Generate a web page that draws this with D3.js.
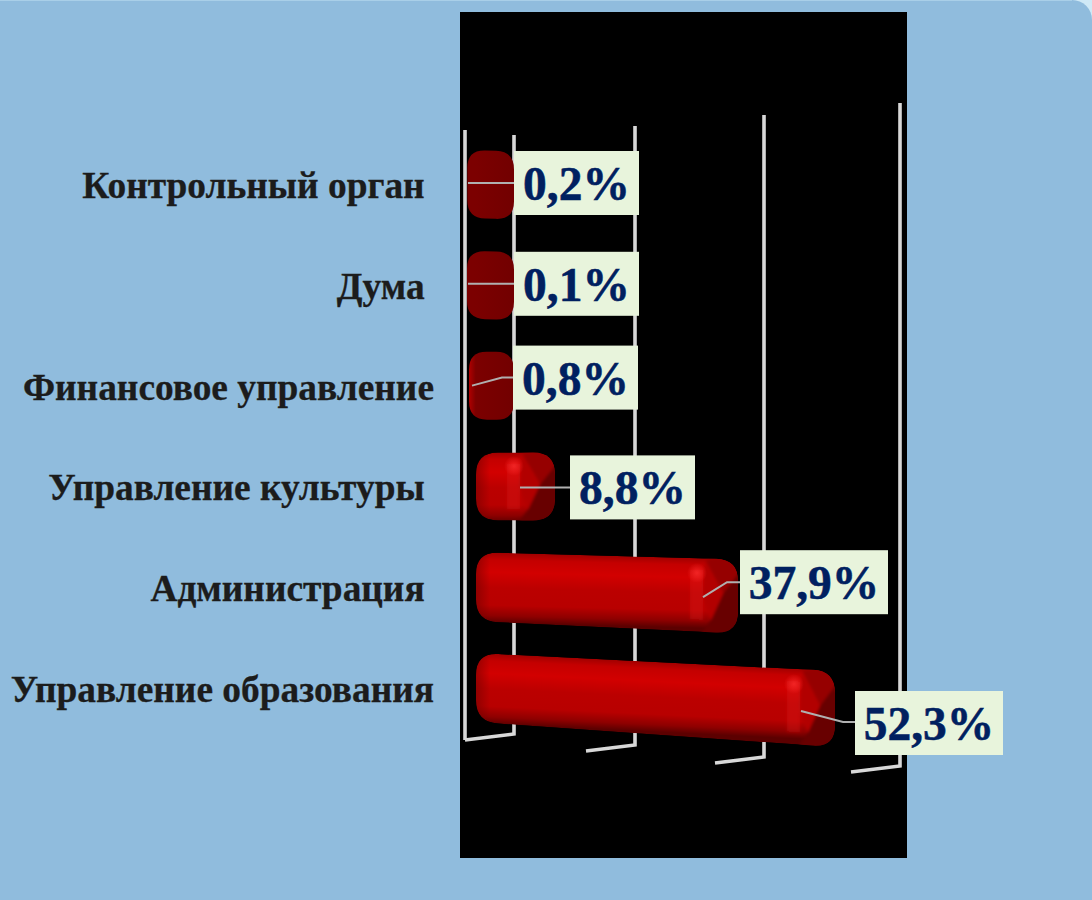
<!DOCTYPE html>
<html>
<head>
<meta charset="utf-8">
<script src="https://cdn.jsdelivr.net/npm/d3@7"></script>
<style>
  html, body { margin: 0; padding: 0; background: #cfe9f6; overflow: hidden; }
  svg { display: block; }
  text { font-family: "Liberation Serif", serif; font-weight: bold; white-space: pre; }
</style>
</head>
<body>
<svg id="chart"></svg>
<script>
// Data
const categories = ["Контрольный орган ", "Дума ", "Финансовое управление", "Управление культуры ", "Администрация ", "Управление образования"];
const values = [0.2, 0.1, 0.8, 8.8, 37.9, 52.3];
const valueLabels = ["0,2%", "0,1%", "0,8%", "8,8%", "37,9%", "52,3%"];
const axisTicks = [0, 20, 40, 60];

const width = 1092;
const height = 900;

const svg = d3.select("#chart").attr("width", width).attr("height", height);
const defs = svg.append("defs");

// soft edge for the end cap shading
defs.append("filter").attr("id", "soft").attr("x", "-20%").attr("y", "-20%").attr("width", "140%").attr("height", "140%")
  .append("feGaussianBlur").attr("stdDeviation", 1.6);

// Background and black plot panel
svg.append("rect").attr("x", -40).attr("y", 0).attr("width", width + 40).attr("height", height + 40)
  .attr("rx", 20).attr("fill", "#90bcdd");
svg.append("line").attr("x1", 0).attr("x2", 1072).attr("y1", 0.5).attr("y2", 0.5).attr("stroke", "#a9cfe8");
svg.append("rect").attr("x", 460).attr("y", 12).attr("width", 447).attr("height", 846).attr("fill", "#000");

// Scales: the 3D perspective makes them piecewise
const x = d3.scaleLinear().domain(axisTicks).range([514, 635, 764, 900]);
const gridTop = d3.scaleLinear().domain(axisTicks).range([135, 126, 115, 103]);
const gridBottom = d3.scaleLinear().domain(axisTicks).range([734, 745, 757, 766]);
const barEnd = d3.scaleLinear().domain([0, 0.8, 8.8, 37.9, 52.3]).range([514, 514, 555, 738, 835]);
const barStart = d3.scaleLinear().domain([0.1, 0.8, 8.8, 52.3]).range([467, 469, 476, 476]);
const rowY = d3.scalePoint().domain(categories).range([184, 688]);
const barHeight = 68;
// how much each row tilts downwards to the right
const rowTilt = d3.scaleLinear().domain([0, 2, 3, 4, 5]).range([0.03, 0.01, 0, 0.027, 0.05]);

// Grid
const grid = svg.append("g").attr("stroke", "#d8d8d8").attr("stroke-width", 3.6).attr("fill", "none");
grid.selectAll("path.tick").data(axisTicks).join("path")
  .attr("class", "tick")
  .attr("d", d => `M${x(d)},${gridTop(d)}V${gridBottom(d)}L${x(d) - 49},${gridBottom(d) + 6}`);
grid.append("path")
  .attr("d", `M465,130V740`);

// Rounded four-sided outline
function outline(x0, x1, t0, t1, b0, b1, r) {
  const s = (t1 - t0) / (x1 - x0), q = (b1 - b0) / (x1 - x0);
  return `M${x0},${t0 + r}Q${x0},${t0} ${x0 + r},${t0 + s * r}` +
    `L${x1 - r},${t1 - s * r}Q${x1},${t1} ${x1},${t1 + r}` +
    `L${x1},${b1 - r}Q${x1},${b1} ${x1 - r},${b1 - q * r}` +
    `L${x0 + r},${b0 + q * r}Q${x0},${b0} ${x0},${b0 - r}Z`;
}

// Bars
const bars = svg.append("g").selectAll("g").data(values).join("g");
bars.each(function (v, i) {
  const g = d3.select(this);
  const x0 = barStart(v), x1 = barEnd(v);
  const s = rowTilt(i);
  const mid = rowY(categories[i]);
  const t0 = mid - barHeight / 2 - (i > 3 ? 1 : 0), b0 = mid + barHeight / 2;
  const len = x1 - x0;
  const t1 = t0 + s * len, b1 = b0 + (s + (i > 3 ? 0.02 : 0)) * len;
  const at = (xx, f) => {
    const u = (xx - x0) / len;
    return (t0 + (t1 - t0) * u) * (1 - f) + (b0 + (b1 - b0) * u) * f;
  };
  const d = outline(x0, x1, t0, t1, b0, b1, i > 2 ? 22 : 18);

  if (v < 1) {
    const id = "small" + i;
    const grad = defs.append("linearGradient").attr("id", id).attr("x1", 0).attr("x2", 1).attr("y1", 0).attr("y2", 0);
    grad.append("stop").attr("offset", 0).attr("stop-color", i === 2 ? "#b00000" : "#7c0000");
    grad.append("stop").attr("offset", 0.15).attr("stop-color", "#7c0000");
    grad.append("stop").attr("offset", 1).attr("stop-color", "#720000");
    g.append("path").attr("d", d).attr("fill", `url(#${id})`);
    return;
  }

  // body shading runs across the tilted bar
  const id = "body" + i;
  const grad = defs.append("linearGradient").attr("id", id).attr("gradientUnits", "userSpaceOnUse")
    .attr("x1", x0).attr("y1", t0).attr("x2", x0 - s * barHeight).attr("y2", t0 + barHeight + 2);
  [[0, "#a00000"], [0.1, "#c40000"], [0.28, "#d20000"], [0.5, "#bb0000"], [0.75, "#b80000"], [0.9, "#8e0000"], [1, "#5c0000"]]
    .forEach(p => grad.append("stop").attr("offset", p[0]).attr("stop-color", p[1]));

  const clip = "clip" + i;
  defs.append("clipPath").attr("id", clip).append("path").attr("d", d);
  const inner = g.append("g").attr("clip-path", `url(#${clip})`);
  inner.append("path").attr("d", d).attr("fill", `url(#${id})`);

  // left rim
  const rimId = "rim" + i;
  const rim = defs.append("linearGradient").attr("id", rimId);
  rim.append("stop").attr("offset", 0).attr("stop-color", "#700000").attr("stop-opacity", 0.55);
  rim.append("stop").attr("offset", 1).attr("stop-color", "#700000").attr("stop-opacity", 0);
  inner.append("rect").attr("x", x0).attr("y", t0).attr("width", 14).attr("height", barHeight + 4).attr("fill", `url(#${rimId})`);

  // end cap: light ring, then faceted tip
  const ring = x1 - 48, capX = x1 - 35;
  const poly = pts => pts.map(p => p.join(",")).join(" ");
  const soft = inner.append("g").attr("filter", "url(#soft)");

  const tip = [x1 - 15, at(x1 - 15, 0.47)];
  const capTop = [capX + 2, at(capX, 0.02)];
  const capBottom = [capX + 8, at(capX, 0.84)];
  soft.append("polygon")
    .attr("points", poly([capTop, [x1 + 4, at(x1, -0.1)], [x1 + 4, at(x1, 0.12)], tip]))
    .attr("fill", "#960000");
  soft.append("polygon")
    .attr("points", poly([tip, [x1 + 4, at(x1, 0.12)], [x1 + 4, at(x1, 1.1)], [capX - 6, at(capX, 1.1)], capBottom]))
    .attr("fill", "#680000");
  soft.append("polygon")
    .attr("points", poly([capTop, tip, capBottom, [capX - 1, at(capX, 0.5)]]))
    .attr("fill", "#b20000");
  soft.append("polygon")
    .attr("points", poly([[ring, at(ring, 0.16)], [capX, at(capX, 0.16)], [capX, at(capX, 0.84)], [ring, at(ring, 0.84)]]))
    .attr("fill", "#e01414").attr("opacity", 0.35);

  const spotId = "spot" + i;
  const spot = defs.append("radialGradient").attr("id", spotId);
  spot.append("stop").attr("offset", 0).attr("stop-color", "#ff3030").attr("stop-opacity", 0.7);
  spot.append("stop").attr("offset", 1).attr("stop-color", "#ff3030").attr("stop-opacity", 0);
  inner.append("circle").attr("cx", ring + 7).attr("cy", at(ring + 7, 0.2)).attr("r", 10).attr("fill", `url(#${spotId})`);
});

// Leader lines, offsets measured from the end of each bar
const leaderOffsets = [
  [[-46, -1], [0, -1]],
  [[-46, -1], [0, -1]],
  [[-42, 0], [-12, -8], [0, -8]],
  [[-35, 1], [15, 1]],
  [[-35, 10], [-11, -5], [2, -5]],
  [[-34, 23], [8, 34], [20, 34]]
];
svg.append("g").selectAll("polyline").data(values).join("polyline")
  .attr("fill", "none").attr("stroke", "#b0b0b0").attr("stroke-width", 2)
  .attr("points", (v, i) => leaderOffsets[i]
    .map(p => [barEnd(v) + p[0], rowY(categories[i]) + p[1]].join(",")).join(" "));

// Value labels on pale boxes
const boxOffsets = [[0, -33], [0, -33], [-1, -40], [15, -31], [2, -37], [20, 3]];
const boxHeight = 64;
const boxWidth = t => t.length > 4 ? 148 : 125;
const labels = svg.append("g").selectAll("g").data(values).join("g")
  .attr("transform", (v, i) => `translate(${barEnd(v) + boxOffsets[i][0]},${rowY(categories[i]) + boxOffsets[i][1]})`);
labels.append("rect")
  .attr("width", (v, i) => boxWidth(valueLabels[i])).attr("height", boxHeight).attr("fill", "#e8f4dc");
labels.append("text")
  .attr("x", (v, i) => boxWidth(valueLabels[i]) / 2).attr("y", 49)
  .attr("text-anchor", "middle").attr("font-size", 47.5).attr("fill", "#002060")
  .attr("stroke", "#002060").attr("stroke-width", 0.5)
  .text((v, i) => valueLabels[i]);

// Category labels
svg.append("g").selectAll("text").data(categories).join("text")
  .attr("x", 434).attr("y", d => rowY(d) + 14)
  .attr("text-anchor", "end").attr("font-size", 37.4).attr("fill", "#1c1c1c")
  .attr("stroke", "#1c1c1c").attr("stroke-width", 0.3)
  .text(d => d);
</script>
</body>
</html>
